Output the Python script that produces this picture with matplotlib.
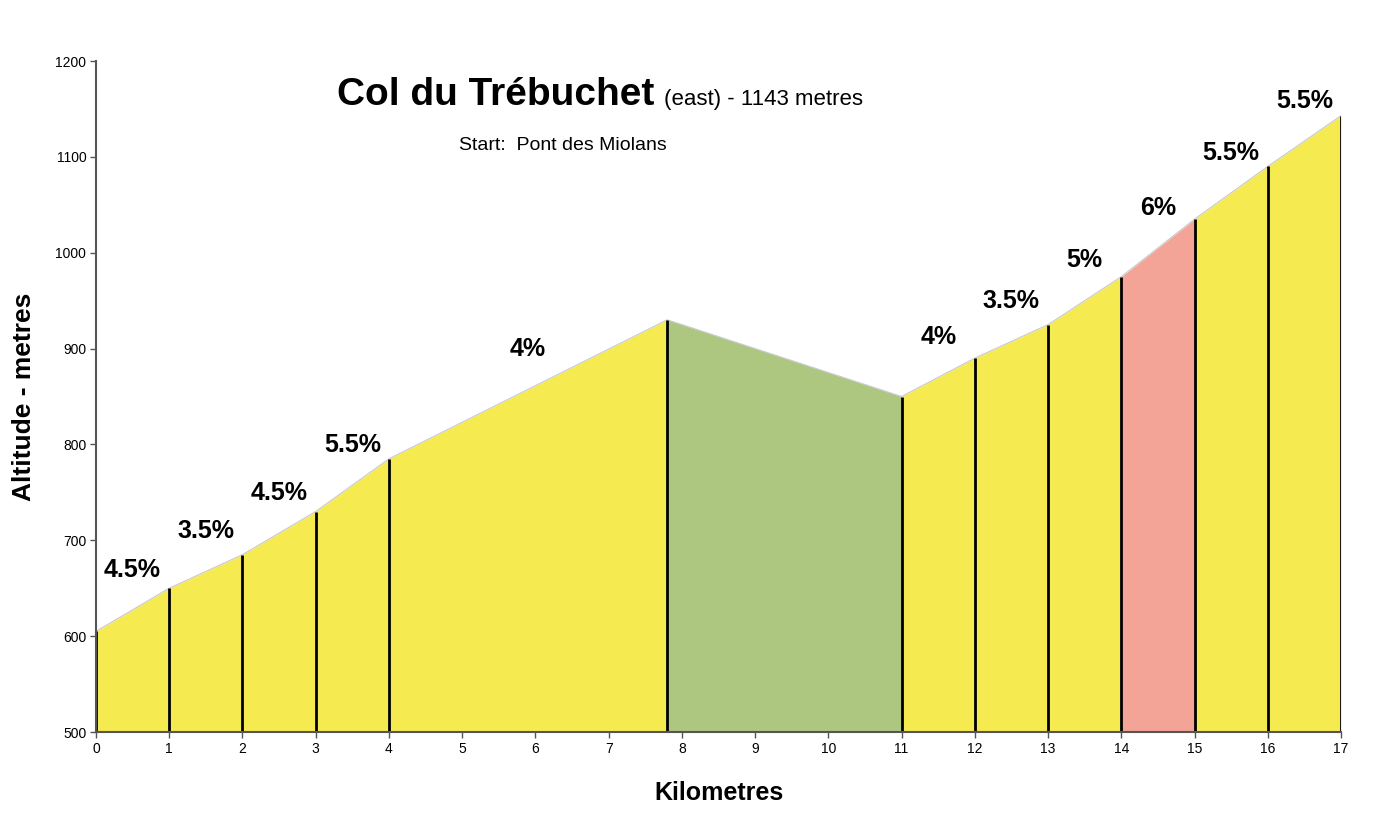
import matplotlib.pyplot as plt

# profile data
km = [0, 1, 2, 3, 4, 7.8, 11, 12, 13, 14, 15, 16, 17]
altitude = [605, 650, 685, 730, 785, 930, 850, 890, 925, 975, 1035, 1090, 1143]
segment_kind = ['climb', 'climb', 'climb', 'climb', 'climb', 'descent',
                'climb', 'climb', 'climb', 'steep', 'climb', 'climb']
gradient_labels = ['4.5%', '3.5%', '4.5%', '5.5%', '4%', '',
                   '4%', '3.5%', '5%', '6%', '5.5%', '5.5%']

title_main = 'Col du Trébuchet'
title_rest = '(east) - 1143 metres'
subtitle = 'Start:  Pont des Miolans'

colours = {'climb': '#F5EB50', 'descent': '#ADC680', 'steep': '#F3A496'}

plt.rcParams['font.family'] = ['Liberation Sans', 'DejaVu Sans']

fig = plt.figure(figsize=(14, 8.13), dpi=100)
ax = fig.add_axes([96 / 1400, 81 / 813, 1245 / 1400, 671 / 813])

for i in range(len(km) - 1):
    xs = [km[i], km[i + 1]]
    ys = [altitude[i], altitude[i + 1]]
    ax.fill_between(xs, 500, ys, color=colours[segment_kind[i]], lw=0)
    label = gradient_labels[i]
    if label:
        xm = (km[i] + km[i + 1]) / 2
        ym = (altitude[i] + altitude[i + 1]) / 2
        ax.text(xm, ym + 42, label, ha='center', va='center',
                fontsize=18, fontweight='bold')

# thin outline along the top of the profile
ax.plot(km, altitude, color='#c8c8c8', lw=0.8)

# black markers at each km point
ax.vlines(km, 500, altitude, color='black', lw=2)

ax.set_xlim(0, 17)
ax.set_ylim(500, 1200)
ax.set_xticks(range(0, 18))
ax.set_yticks(range(500, 1201, 100))
ax.tick_params(labelsize=10, length=4, width=1, color='#555555',
               direction='out', pad=3)

for side in ['top', 'right']:
    ax.spines[side].set_visible(False)
for side in ['left', 'bottom']:
    ax.spines[side].set_color('#555555')
    ax.spines[side].set_linewidth(1.5)

ax.set_xlabel('Kilometres', fontsize=18, fontweight='bold', labelpad=18)
ax.set_ylabel('Altitude - metres', fontsize=19, fontweight='bold', labelpad=14)

fig.text(337 / 1400, 1 - 105 / 813, title_main, fontsize=28, fontweight='bold',
         va='baseline', ha='left')
fig.text(664 / 1400, 1 - 105 / 813, title_rest, fontsize=16,
         va='baseline', ha='left')
fig.text(459 / 1400, 1 - 145 / 813, subtitle, fontsize=14,
         va='center', ha='left')

fig.savefig('out.png', dpi=100)
